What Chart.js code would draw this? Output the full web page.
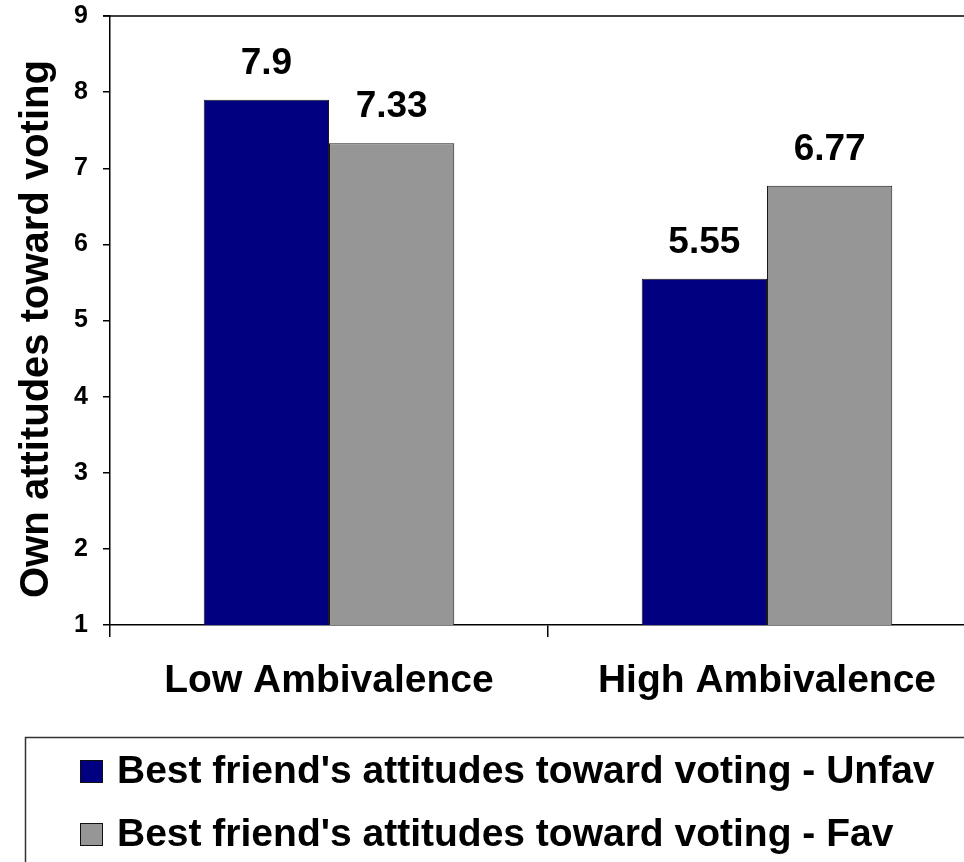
<!DOCTYPE html>
<html>
<head>
<meta charset="utf-8">
<title>Own attitudes toward voting</title>
<script src="https://cdn.jsdelivr.net/npm/chart.js@4/dist/chart.umd.min.js"></script>
<style>
  html, body { margin: 0; padding: 0; background: #ffffff; overflow: hidden; }
  #wrap { width: 1000px; height: 862px; }
</style>
</head>
<body>
<div id="wrap"><canvas id="chart" width="1000" height="862"></canvas></div>
<script>
// Data
const categories = ['Low Ambivalence', 'High Ambivalence'];
const seriesNames = [
  "Best friend's attitudes toward voting - Unfav",
  "Best friend's attitudes toward voting - Fav"
];
const unfavValues = [7.9, 5.55];
const favValues = [7.33, 6.77];
const valueLabels = [['7.9', '5.55'], ['7.33', '6.77']];
const yTicks = [1, 2, 3, 4, 5, 6, 7, 8, 9];
const yTitle = 'Own attitudes toward voting';

const FONT = '"Liberation Sans", Arial, Helvetica, sans-serif';

// Value labels above each bar
const valueLabelPlugin = {
  id: 'valueLabels',
  afterDatasetsDraw(chart) {
    const ctx = chart.ctx;
    ctx.save();
    ctx.font = 'bold 37px ' + FONT;
    ctx.fillStyle = '#000';
    ctx.textAlign = 'center';
    ctx.textBaseline = 'alphabetic';
    chart.data.datasets.forEach((ds, di) => {
      chart.getDatasetMeta(di).data.forEach((bar, i) => {
        ctx.fillText(valueLabels[di][i], bar.x, bar.y - 26);
      });
    });
    ctx.restore();
  }
};

// Plot frame, axis title and boxed legend
const framePlugin = {
  id: 'frame',
  afterDraw(chart) {
    const ctx = chart.ctx;
    const a = chart.chartArea;
    ctx.save();
    // top and right edges of the plot frame
    ctx.strokeStyle = '#000';
    ctx.lineWidth = 1.5;
    ctx.beginPath();
    ctx.moveTo(a.left - 7, a.top);
    ctx.lineTo(a.right, a.top);
    ctx.lineTo(a.right, a.bottom);
    ctx.stroke();

    // y axis title
    ctx.save();
    ctx.translate(37, 329);
    ctx.rotate(-Math.PI / 2);
    ctx.font = 'bold 40px ' + FONT;
    ctx.fillStyle = '#000';
    ctx.textAlign = 'center';
    ctx.textBaseline = 'middle';
    ctx.fillText(yTitle, 0, 0);
    ctx.restore();

    // legend box
    ctx.strokeStyle = '#333';
    ctx.lineWidth = 1.5;
    ctx.strokeRect(25.5, 737.5, 1100, 200);
    const rows = [771.5, 834.5];
    chart.data.datasets.forEach((ds, i) => {
      const cy = rows[i];
      ctx.fillStyle = ds.backgroundColor;
      ctx.fillRect(80, cy - 11.5, 23, 23);
      ctx.strokeStyle = '#111';
      ctx.lineWidth = 1;
      ctx.strokeRect(80.5, cy - 11, 22, 22);
      ctx.font = 'bold 39px ' + FONT;
      ctx.fillStyle = '#000';
      ctx.textAlign = 'left';
      ctx.textBaseline = 'middle';
      ctx.fillText(ds.label, 117, cy + 1);
    });
    ctx.restore();
  }
};

new Chart(document.getElementById('chart'), {
  type: 'bar',
  data: {
    labels: categories,
    datasets: [
      {
        label: seriesNames[0],
        data: unfavValues,
        backgroundColor: '#000080',
        borderColor: '#1a1a1a',
        borderWidth: 1,
        borderSkipped: false
      },
      {
        label: seriesNames[1],
        data: favValues,
        backgroundColor: '#969696',
        borderColor: '#1a1a1a',
        borderWidth: 1,
        borderSkipped: false
      }
    ]
  },
  options: {
    responsive: false,
    devicePixelRatio: 1,
    animation: false,
    layout: { padding: { top: 16, right: 14, left: 0, bottom: 0 } },
    datasets: { bar: { categoryPercentage: 0.572, barPercentage: 1.0 } },
    plugins: {
      legend: { display: false },
      tooltip: { enabled: false },
      title: { display: false }
    },
    scales: {
      x: {
        offset: true,
        grid: {
          display: true,
          offset: true,
          drawOnChartArea: false,
          drawTicks: true,
          tickLength: 12,
          color: '#000',
          lineWidth: 1.5
        },
        border: { display: true, color: '#000', width: 1.5 },
        ticks: {
          font: { family: FONT, size: 39, weight: 'bold' },
          color: '#000',
          padding: 21,
          maxRotation: 0
        },
        afterFit(scale) {
          scale.height = 237;
          scale.paddingLeft = 0;
          scale.paddingRight = 0;
        }
      },
      y: {
        min: yTicks[0],
        max: yTicks[yTicks.length - 1],
        afterBuildTicks(scale) { scale.ticks = yTicks.map(v => ({ value: v })); },
        grid: {
          display: true,
          drawOnChartArea: false,
          drawTicks: true,
          tickLength: 7,
          color: '#000',
          lineWidth: 1.5
        },
        border: { display: true, color: '#000', width: 1.5 },
        ticks: {
          font: { family: FONT, size: 25, weight: 'bold' },
          color: '#000',
          padding: 15,
          callback: v => String(v)
        },
        afterFit(scale) {
          scale.width = 110;
          scale.paddingTop = 0;
          scale.paddingBottom = 0;
        }
      }
    }
  },
  plugins: [valueLabelPlugin, framePlugin]
});
</script>
</body>
</html>
